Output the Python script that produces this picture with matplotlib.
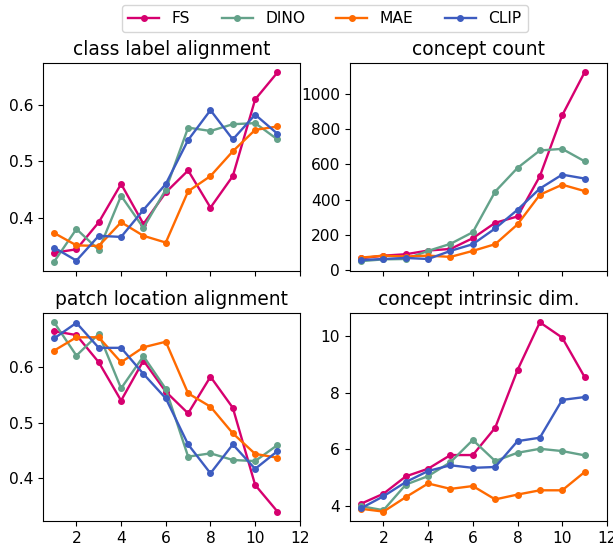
import numpy as np
import matplotlib
matplotlib.use("Agg")
import matplotlib.pyplot as plt

plt.rcParams["font.size"] = 11.2

# --- data ---
layers = list(range(1, 12))
models = ["FS", "DINO", "MAE", "CLIP"]
colors = ["#d6006f", "#64a28a", "#ff6a00", "#3d5cc0"]

class_label = {
    "FS":   [0.338, 0.344, 0.392, 0.460, 0.389, 0.445, 0.484, 0.418, 0.474, 0.610, 0.658],
    "DINO": [0.322, 0.380, 0.343, 0.439, 0.382, 0.450, 0.560, 0.554, 0.566, 0.568, 0.539],
    "MAE":  [0.373, 0.351, 0.350, 0.392, 0.368, 0.356, 0.447, 0.474, 0.518, 0.556, 0.562],
    "CLIP": [0.347, 0.324, 0.368, 0.366, 0.414, 0.460, 0.538, 0.591, 0.539, 0.583, 0.549],
}
concept_count = {
    "FS":   [68, 83, 91, 112, 121, 182, 269, 305, 533, 878, 1121],
    "DINO": [52, 62, 64, 110, 150, 216, 446, 580, 679, 688, 618],
    "MAE":  [72, 83, 78, 83, 76, 110, 148, 260, 428, 485, 449],
    "CLIP": [58, 64, 70, 64, 110, 148, 237, 343, 463, 542, 520],
}
patch_loc = {
    "FS":   [0.665, 0.658, 0.609, 0.540, 0.612, 0.556, 0.517, 0.583, 0.527, 0.388, 0.340],
    "DINO": [0.681, 0.621, 0.660, 0.562, 0.620, 0.561, 0.439, 0.445, 0.433, 0.431, 0.460],
    "MAE":  [0.630, 0.654, 0.654, 0.609, 0.636, 0.646, 0.553, 0.529, 0.481, 0.444, 0.437],
    "CLIP": [0.652, 0.680, 0.635, 0.635, 0.588, 0.544, 0.461, 0.409, 0.461, 0.417, 0.449],
}
intrinsic_dim = {
    "FS":   [4.09, 4.44, 5.05, 5.32, 5.80, 5.80, 6.76, 8.79, 10.47, 9.93, 8.55],
    "DINO": [4.00, 3.86, 4.76, 5.06, 5.55, 6.33, 5.59, 5.88, 6.02, 5.94, 5.79],
    "MAE":  [3.91, 3.81, 4.32, 4.80, 4.61, 4.71, 4.24, 4.41, 4.56, 4.56, 5.20],
    "CLIP": [3.93, 4.35, 4.85, 5.24, 5.44, 5.35, 5.38, 6.29, 6.41, 7.74, 7.84],
}

panels = [
    ("class label alignment", class_label),
    ("concept count", concept_count),
    ("patch location alignment", patch_loc),
    ("concept intrinsic dim.", intrinsic_dim),
]

fig, axes = plt.subplots(2, 2, figsize=(6.13, 5.52), dpi=100, sharex=True)
fig.subplots_adjust(left=0.070, right=0.990, top=0.886, bottom=0.056,
                    wspace=0.195, hspace=0.20)

for ax, (title, data) in zip(axes.flat, panels):
    for m, c in zip(models, colors):
        ax.plot(layers, data[m], marker="o", markersize=4, lw=1.7,
                color=c, label=m)
    ax.set_title(title)
    ax.set_xticks([2, 4, 6, 8, 10, 12])

# concept count axis starts just below zero in the reference
axes[0, 1].set_ylim(-5, 1175)

handles, labels = axes[0, 0].get_legend_handles_labels()
fig.legend(handles, labels, loc="upper center", ncol=4,
           bbox_to_anchor=(0.53, 1.005), frameon=True)

fig.savefig("out.png", dpi=100)
